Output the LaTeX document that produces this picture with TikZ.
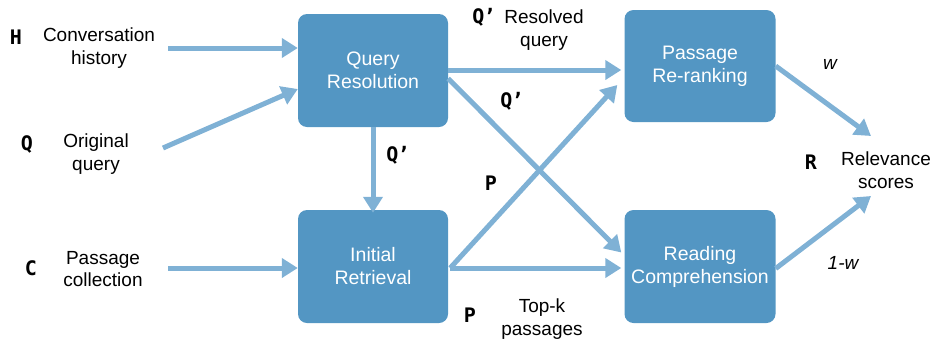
\documentclass[tikz,border=0pt]{standalone}
\usepackage{fontspec}
\setmainfont{Liberation Sans}
\newfontfamily\symfont{DejaVu Sans Mono}
\usetikzlibrary{arrows.meta}
\definecolor{boxblue}{HTML}{5396C3}
\definecolor{arrblue}{HTML}{7FB1D5}
\tikzset{
  box/.style={draw=none, fill=boxblue, rounded corners=9pt, minimum width=150pt, minimum height=113pt, text=white, align=center, font=\fontsize{19.5}{23}\selectfont},
  lbl/.style={align=center, font=\fontsize{19}{22.5}\selectfont, inner sep=0pt},
  sym/.style={font=\symfont\bfseries\fontsize{20}{22}\selectfont, inner sep=0pt},
  wl/.style={font=\itshape\fontsize{19}{22}\selectfont, inner sep=0pt},
  arr/.style={draw=arrblue, line width=5pt, -{Triangle[width=19pt,length=16pt]}},
}
\begin{document}
\begin{tikzpicture}[x=1pt,y=-1pt]
\useasboundingbox (0,0) rectangle (935,341);
\node[box] (qr) at (373,70.5) {Query\\Resolution};
\node[box] (ir) at (373,266.5) {Initial\\Retrieval};
\node[box, minimum width=151pt, minimum height=112pt] (pr) at (700,66) {Passage\\Re-ranking};
\node[box, minimum width=151pt] (rc) at (700,266.5) {Reading\\Comprehension};

\node[sym] at (16,37) {H};
\node[lbl] (hist) at (99,48) {Conversation\\history};
\node[sym] at (27,144) {Q};
\node[lbl] (oq) at (96,154) {Original\\query};
\node[sym] at (31,268) {C};
\node[lbl] (pc) at (103,269) {Passage\\collection};
\node[sym] at (398,155) {Q\kern-1pt’};
\node[sym] at (484,17) {Q\kern-1pt’};
\node[lbl] (rq) at (544,30) {Resolved\\query};
\node[sym] at (512,101) {Q\kern-1pt’};
\node[sym] at (491,183) {P};
\node[sym] at (470,315) {P};
\node[lbl] (tk) at (542,319) {Top-k\\passages};
\node[wl] at (830,64) {w};
\node[sym] at (811,162) {R};
\node[lbl] (rs) at (886,170) {Relevance\\scores};
\node[wl] at (843,263) {1-w};

\coordinate (hs) at (168,48);
\coordinate (qs) at (163,148);
\coordinate (cs) at (168,268);
\coordinate (rtop) at (871,136);
\coordinate (rbot) at (871,196);

\draw[arr] (hs) -- (hs -| qr.west);
\draw[arr] (qs) -- (qr.west |- 0,89);
\draw[arr] (cs) -- (cs -| ir.west);
\draw[arr] (qr.south) -- ([yshift=-3pt]ir.north);
\draw[arr] (qr.east |- 0,70) -- ([xshift=-3pt]pr.west |- 0,70);
\draw[arr] ([yshift=-8pt]qr.east) -- ([xshift=-3pt,yshift=14pt]rc.west);
\draw[arr] ([xshift=2pt,yshift=-1.5pt]ir.east) -- ([xshift=-7pt,yshift=-19pt]pr.west);
\draw[arr] ([xshift=2pt,yshift=-1.5pt]ir.east) -- ([xshift=-3pt,yshift=-1.5pt]rc.west);
\draw[arr] (pr.east) -- (rtop);
\draw[arr] ([yshift=-2pt]rc.east) -- (rbot);
\end{tikzpicture}
\end{document}
